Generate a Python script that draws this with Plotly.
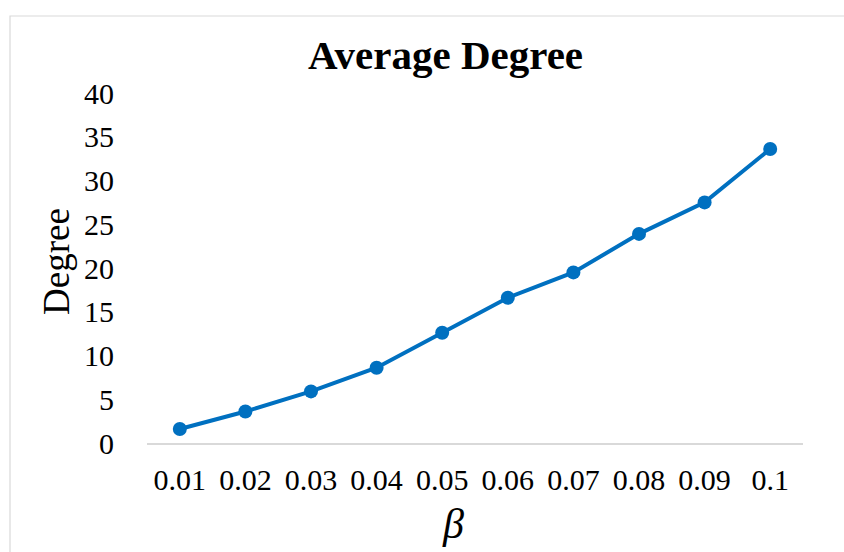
import plotly.graph_objects as go

# Average node degree for each beta value
beta_labels = ["0.01", "0.02", "0.03", "0.04", "0.05", "0.06", "0.07", "0.08", "0.09", "0.1"]
avg_degree = [1.6, 3.6, 5.9, 8.6, 12.6, 16.6, 19.5, 23.9, 27.5, 33.6]
y_ticks = [0, 5, 10, 15, 20, 25, 30, 35, 40]

SERIF = "Liberation Serif, Times New Roman, serif"
BLUE = "#0070C0"

W, H = 844, 552
L, R, T, B = 147, 41, 93, 109
PW, PH = W - L - R, H - T - B


def px_to_paper(xp, yp):
    return (xp - L) / PW, (H - B - yp) / PH


fig = go.Figure(
    go.Scatter(
        x=beta_labels,
        y=avg_degree,
        mode="lines+markers",
        line=dict(color=BLUE, width=4),
        marker=dict(color=BLUE, size=14),
        showlegend=False,
    )
)

# chart frame (left and top edges visible)
x0, y0 = px_to_paper(10, 16)
x1, y1 = px_to_paper(860, 570)
fig.add_shape(type="rect", xref="paper", yref="paper", x0=x0, y0=y1, x1=x1, y1=y0,
              line=dict(color="#D9D9D9", width=1.2), fillcolor="rgba(0,0,0,0)", layer="below")

tx, ty = px_to_paper(445, 55)
fig.add_annotation(text="<b>Average Degree</b>", xref="paper", yref="paper", x=tx, y=ty,
                   showarrow=False, xanchor="center", yanchor="middle",
                   font=dict(family=SERIF, size=41, color="black"))

ax, ay = px_to_paper(56, 261)
fig.add_annotation(text="Degree", xref="paper", yref="paper", x=ax, y=ay,
                   showarrow=False, textangle=-90, xanchor="center", yanchor="middle",
                   font=dict(family=SERIF, size=37, color="black"))

bx, by = px_to_paper(453, 524)
fig.add_annotation(text="<i>β</i>", xref="paper", yref="paper", x=bx, y=by,
                   showarrow=False, xanchor="center", yanchor="middle",
                   font=dict(family=SERIF, size=42, color="black"))

fig.update_layout(
    width=W, height=H,
    margin=dict(l=L, r=R, t=T, b=B, pad=0),
    paper_bgcolor="white", plot_bgcolor="white",
    font=dict(family=SERIF, size=30, color="black"),
    xaxis=dict(
        type="category", range=[-0.5, len(beta_labels) - 0.5],
        showgrid=False, zeroline=False,
        showline=True, linecolor="#D9D9D9", linewidth=1.5,
        ticks="outside", ticklen=9, tickcolor="rgba(0,0,0,0)",
        tickfont=dict(family=SERIF, size=30, color="black"),
    ),
    yaxis=dict(
        range=[0, 40], tickvals=y_ticks,
        showgrid=False, zeroline=False, showline=False,
        ticks="outside", ticklen=26, tickcolor="rgba(0,0,0,0)",
        tickfont=dict(family=SERIF, size=30, color="black"),
    ),
)

fig.write_html("out.html")
